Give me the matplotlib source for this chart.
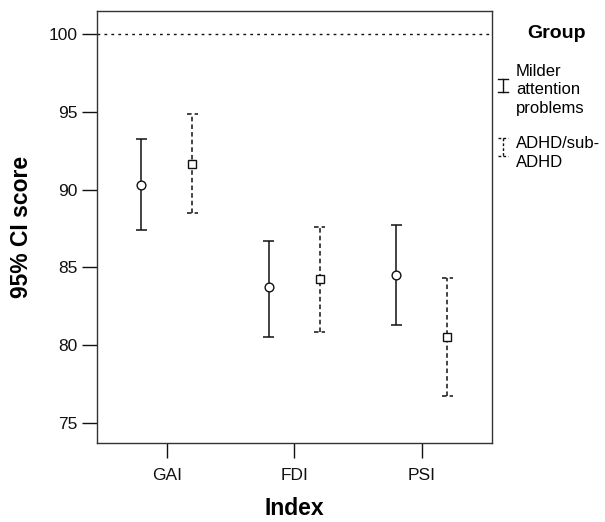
import matplotlib

matplotlib.use("Agg")
import matplotlib.pyplot as plt
from matplotlib.lines import Line2D
import numpy as np

plt.rcParams["font.family"] = ["Liberation Sans", "DejaVu Sans"]

INDICES = ["GAI", "FDI", "PSI"]
GROUPS = ["Milder\nattention\nproblems", "ADHD/sub-\nADHD"]
MEAN_MILD = [90.3, 83.7, 84.5]
LOW_MILD = [87.4, 80.5, 81.3]
HIGH_MILD = [93.25, 86.7, 87.7]
MEAN_ADHD = [91.65, 84.25, 80.5]
LOW_ADHD = [88.5, 80.85, 76.75]
HIGH_ADHD = [94.85, 87.6, 84.3]
REFERENCE = 100

INK = "#111111"
W, H = 605, 522

fig = plt.figure(figsize=(W / 100, H / 100), dpi=100)
ax = fig.add_axes([97.3 / W, 1 - 443 / H, 395 / W, 432 / H])

x = np.arange(len(INDICES))
off = 0.2
cap = 0.043

series = [
    (x - off, MEAN_MILD, LOW_MILD, HIGH_MILD, "-", "o", 6.3),
    (x + off, MEAN_ADHD, LOW_ADHD, HIGH_ADHD, (0, (3, 2)), "s", 5.5),
]
for xs, m, lo, hi, ls, mk, ms in series:
    ax.vlines(xs, lo, hi, colors=INK, linestyles=ls, linewidth=1.1)
    ax.hlines(lo, xs - cap, xs + cap, colors=INK, linestyles=ls, linewidth=1.1)
    ax.hlines(hi, xs - cap, xs + cap, colors=INK, linestyles=ls, linewidth=1.1)
    ax.plot(xs, m, linestyle="none", marker=mk, ms=ms, mfc="white",
            mec=INK, mew=1.0, zorder=3)

ax.axhline(REFERENCE, color=INK, linestyle=(0, (2, 3)), linewidth=1.0)

ax.set_xlim(-0.545, 2.555)
ax.set_ylim(73.7, 101.48)
ax.set_xticks(x)
ax.set_xticklabels(INDICES)
ax.set_yticks([75, 80, 85, 90, 95, 100])
ax.tick_params(axis="both", direction="out", length=11, width=1, colors=INK,
               labelsize=12.5)
ax.tick_params(axis="x", pad=7)
ax.tick_params(axis="y", pad=3.5)
for sp in ax.spines.values():
    sp.set_color("#333333")
    sp.set_linewidth(1.0)

ax.set_xlabel("Index", fontsize=16.5, fontweight="bold")
ax.set_ylabel("95% CI score", fontsize=16.5, fontweight="bold")
ax.xaxis.set_label_coords(0.5, -0.125)
ax.yaxis.set_label_coords(-0.164, 0.5)

# legend, drawn by hand to the right of the axes
fig.text(557 / W, 1 - 33 / H, "Group", fontsize=14, fontweight="bold",
         ha="center", va="center")
leg_icon = [(79, 92), (138, 156)]
leg_text_y = [90, 153]
leg_styles = ["-", (0, (2, 1.5))]
xc, hw = 502.5, 5
for name, (top, bot), ty, ls in zip(GROUPS, leg_icon, leg_text_y, leg_styles):
    y0, y1 = 1 - top / H, 1 - bot / H
    x0, x1 = (xc - hw) / W, (xc + hw) / W
    for xs_, ys_ in (((xc / W, xc / W), (y0, y1)), ((x0, x1), (y0, y0)),
                     ((x0, x1), (y1, y1))):
        fig.add_artist(Line2D(xs_, ys_, color=INK, linestyle=ls,
                              linewidth=1.0, transform=fig.transFigure))
    fig.text(516 / W, 1 - ty / H, name, fontsize=12, ha="left",
             va="center", linespacing=1.3)

fig.savefig("out.png", dpi=100)
